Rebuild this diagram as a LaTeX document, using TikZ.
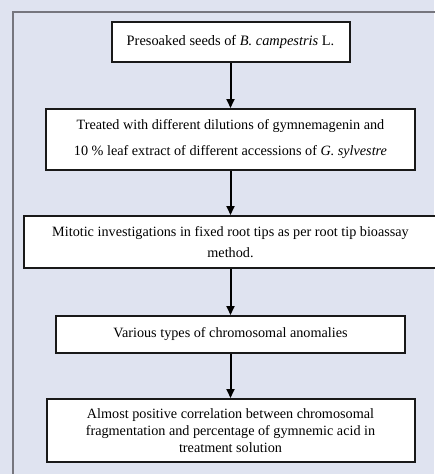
\documentclass[tikz,border=0pt]{standalone}
\usepackage{fontspec}
\setmainfont{Liberation Serif}
\usetikzlibrary{arrows.meta}
\definecolor{pagebg}{RGB}{223,227,240}
\definecolor{framegray}{RGB}{118,118,126}
\tikzset{
  stepbox/.style={draw=black!90, line width=2pt, fill=white, align=center, inner sep=0pt},
  flowarrow/.style={line width=2pt, -{Triangle[width=8pt,length=9pt]}},
}
\begin{document}
\begin{tikzpicture}[x=1pt,y=-1pt]
    % Page
    \fill[pagebg] (0,0) rectangle (434,474);
    \useasboundingbox (0,0) rectangle (434,474);
    % Frame
    \draw[framegray, line width=2.5pt] (13,480) -- (13,12) -- (440,12);
    % Steps
    \node[stepbox, minimum width=238pt, minimum height=40pt,
          font=\fontsize{14.4}{17}\selectfont] (seeds) at (230.5,42)
          {Presoaked seeds of \textit{B. campestris} L.};
    \node[stepbox, minimum width=369pt, minimum height=61pt,
          font=\fontsize{14.2}{26}\selectfont] (treat) at (230.5,139.5)
          {Treated with different dilutions of gymnemagenin and\\
           10 \% leaf extract of different accessions of \textit{G. sylvestre}};
    \node[stepbox, minimum width=414pt, minimum height=52pt,
          font=\fontsize{14.2}{21}\selectfont] (mitotic) at (230.5,242)
          {Mitotic investigations in fixed root tips as per root tip bioassay\\
           method.};
    \node[stepbox, minimum width=349pt, minimum height=37pt,
          font=\fontsize{14.2}{17}\selectfont] (anom) at (230.5,334.5)
          {Various types of chromosomal anomalies};
    \node[stepbox, minimum width=368pt, minimum height=63pt,
          font=\fontsize{14.2}{17}\selectfont] (corr) at (230.5,430.5)
          {Almost positive correlation between chromosomal\\
           fragmentation and percentage of gymnemic acid in\\
           treatment solution};
    % Arrows
    \draw[flowarrow] (seeds) -- (treat);
    \draw[flowarrow] (treat) -- (mitotic);
    \draw[flowarrow] (mitotic) -- (anom);
    \draw[flowarrow] (anom) -- (corr);
\end{tikzpicture}
\end{document}
